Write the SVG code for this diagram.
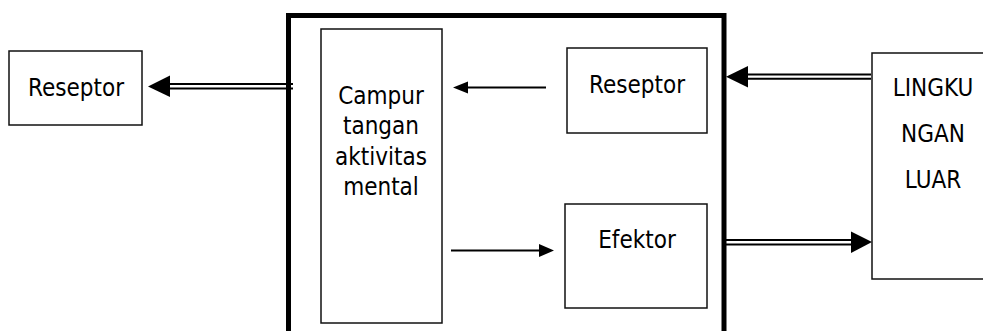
<svg xmlns="http://www.w3.org/2000/svg" width="983" height="331" viewBox="0 0 983 331">
<style>
.box{fill:#fff;stroke:#111;stroke-width:1.5}
.frame{fill:none;stroke:#000;stroke-width:5}
.t{font-family:"DejaVu Sans Condensed","DejaVu Sans",sans-serif;font-size:24px;fill:#000;text-anchor:middle}
.ln{stroke:#000;stroke-width:2;fill:none}
.hd{fill:#000;stroke:none}
</style>
<rect width="983" height="331" fill="#fff"/>
<g id="system">
<rect class="frame" x="288.5" y="15.5" width="435.5" height="330"/>
</g>
<g id="reseptor-left">
<rect class="box" x="9" y="51" width="133" height="74"/>
<text class="t" x="76" y="96">Reseptor</text>
</g>
<g id="campur">
<rect class="box" x="321" y="29" width="121" height="294"/>
<text class="t" x="381" y="104">Campur</text>
<text class="t" x="381" y="134">tangan</text>
<text class="t" x="381" y="165">aktivitas</text>
<text class="t" x="381" y="195">mental</text>
</g>
<g id="reseptor-inner">
<rect class="box" x="567" y="48" width="140" height="85"/>
<text class="t" x="637" y="93">Reseptor</text>
</g>
<g id="efektor">
<rect class="box" x="565" y="204" width="142" height="104"/>
<text class="t" x="637" y="248">Efektor</text>
</g>
<g id="lingkungan">
<rect class="box" x="872" y="53" width="200" height="226"/>
<text class="t" x="933" y="96">LINGKU</text>
<text class="t" x="933" y="142">NGAN</text>
<text class="t" x="933" y="188">LUAR</text>
</g>
<g id="connectors">
<line class="ln" x1="293" y1="84" x2="168" y2="84"/>
<line class="ln" x1="293" y1="88.5" x2="168" y2="88.5"/>
<polygon class="hd" points="148,86.5 170,75.5 170,97"/>
<line class="ln" x1="546" y1="87.5" x2="465" y2="87.5"/>
<polygon class="hd" points="453,87.5 468,81.5 468,93.5"/>
<line class="ln" x1="451" y1="250.5" x2="542" y2="250.5"/>
<polygon class="hd" points="554,250.5 539,244 539,257"/>
<line class="ln" x1="871" y1="74.5" x2="745" y2="74.5"/>
<line class="ln" x1="871" y1="78.8" x2="745" y2="78.8"/>
<polygon class="hd" points="726,76.7 748,66 748,87.5"/>
<line class="ln" x1="726" y1="240" x2="853" y2="240"/>
<line class="ln" x1="726" y1="244.5" x2="853" y2="244.5"/>
<polygon class="hd" points="872,242 851,231.5 851,253"/>
</g>
</svg>
